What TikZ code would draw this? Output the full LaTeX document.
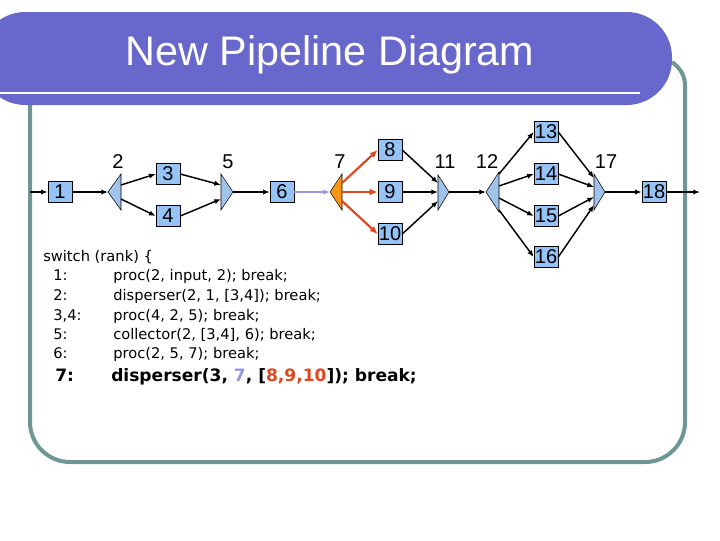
\documentclass[tikz,border=0pt]{standalone}
\usepackage{fontspec}
\setmainfont{Liberation Sans}
\newfontfamily\codefont{DejaVu Sans}
\usetikzlibrary{arrows.meta}
\definecolor{bar}{RGB}{104,104,204}
\definecolor{teal}{RGB}{110,150,150}
\definecolor{boxc}{RGB}{150,195,245}
\definecolor{tric}{RGB}{160,195,235}
\definecolor{orng}{RGB}{250,150,20}
\definecolor{redc}{RGB}{225,70,30}
\definecolor{lav}{RGB}{150,150,225}
\tikzset{
 box/.style={draw=black,fill=boxc,minimum width=18pt,minimum height=16pt,inner sep=0pt,font=\fontsize{15}{15}\selectfont},
 lbl/.style={font=\fontsize{15}{15}\selectfont},
 tri/.style={draw=black,fill=tric,line width=0.4pt},
 ar/.style={-{Latex[length=5pt,width=4pt]},line width=1.1pt},
 rar/.style={-{Latex[length=6pt,width=5pt]},line width=1.6pt,draw=redc},
 code/.style={anchor=base west,inner sep=0pt,font=\codefont\fontsize{11}{11}\selectfont},
 bcode/.style={anchor=base west,inner sep=0pt,font=\codefont\bfseries\fontsize{12.8}{13}\selectfont}
}
\begin{document}
\begin{tikzpicture}[x=0.75pt,y=-0.75pt]
\useasboundingbox (0,0) rectangle (720,540);
% frame
\draw[teal,line width=3pt,rounded corners=30pt] (30,100) -- (30,462) -- (685,462) -- (685,85);
\draw[teal,line width=3pt] (685,86) .. controls (685,75) and (680,68) .. (672,62);
\fill[bar,rounded corners=34pt] (-20,12) -- (672,12) -- (672,105) -- (-20,105) -- cycle;
\draw[white,line width=2pt] (0,93) -- (640,93);
\node[white,font=\fontsize{31}{31}\selectfont] (title) at (330,55) {New Pipeline Diagram};
% boxes
\node[box] (n1) at (60,192) {1};
\node[box] (n3) at (168,174) {3};
\node[box] (n4) at (168,216) {4};
\node[box] (n6) at (282,192) {6};
\node[box] (n8) at (390,150) {8};
\node[box] (n9) at (390,192) {9};
\node[box] (n10) at (390,234) {10};
\node[box] (n13) at (546,132) {13};
\node[box] (n14) at (546,174) {14};
\node[box] (n15) at (546,216) {15};
\node[box] (n16) at (546,257) {16};
\node[box] (n18) at (654,192) {18};
% triangles
\draw[tri] (108,192) -- (121,174) -- (121,210) -- cycle;
\coordinate (t2) at (108,192); \coordinate (b2a) at (121,185); \coordinate (b2b) at (121,199);
\draw[tri] (233,192) -- (221,174) -- (221,210) -- cycle;
\coordinate (t5) at (233,192); \coordinate (b5a) at (221,185); \coordinate (b5b) at (221,199);
\draw[tri,fill=orng] (330,192) -- (342,174) -- (342,210) -- cycle;
\coordinate (t7) at (330,192); \coordinate (b7a) at (342,183); \coordinate (b7b) at (342,192); \coordinate (b7c) at (342,201);
\draw[tri] (449,192) -- (438,175) -- (438,210) -- cycle;
\coordinate (t11) at (449,192); \coordinate (b11a) at (438,183); \coordinate (b11b) at (438,192); \coordinate (b11c) at (438,201);
\draw[tri] (486,192) -- (499,172) -- (499,212) -- cycle;
\coordinate (t12) at (486,192); \coordinate (b12a) at (499,174); \coordinate (b12b) at (499,186); \coordinate (b12c) at (499,198); \coordinate (b12d) at (499,210);
\draw[tri] (605,192) -- (594,174) -- (594,210) -- cycle;
\coordinate (t17) at (605,192); \coordinate (b17a) at (594,178); \coordinate (b17b) at (594,187); \coordinate (b17c) at (594,197); \coordinate (b17d) at (594,205);
% labels
\node[lbl] (l2) at (118,162) {2};
\node[lbl] (l5) at (228,162) {5};
\node[lbl] (l7) at (340,162) {7};
\node[lbl] (l11) at (445,162) {11};
\node[lbl] (l12) at (487,162) {12};
\node[lbl] (l17) at (606,162) {17};
% edges
\coordinate (in) at (30,192); \coordinate (out) at (700,192);
\draw[ar] (in) -- (n1);
\draw[ar] (n1) -- (t2);
\draw[ar] (b2a) -- (n3.west);
\draw[ar] (b2b) -- (n4.west);
\draw[ar] (n3.east) -- (b5a);
\draw[ar] (n4.east) -- (b5b);
\draw[ar] (t5) -- (n6);
\draw[ar,draw=lav] (n6) -- (t7);
\draw[rar] (b7a) -- (n8.west);
\draw[rar] (b7b) -- (n9.west);
\draw[rar] (b7c) -- (n10.west);
\draw[ar] (n8.east) -- (b11a);
\draw[ar] (n9.east) -- (b11b);
\draw[ar] (n10.east) -- (b11c);
\draw[ar] (t11) -- (t12);
\draw[ar] (b12a) -- (n13.west);
\draw[ar] (b12b) -- (n14.west);
\draw[ar] (b12c) -- (n15.west);
\draw[ar] (b12d) -- (n16.west);
\draw[ar] (n13.east) -- (b17a);
\draw[ar] (n14.east) -- (b17b);
\draw[ar] (n15.east) -- (b17c);
\draw[ar] (n16.east) -- (b17d);
\draw[ar] (t17) -- (n18);
\draw[ar] (n18) -- (out);
% code
\node[code] (c0) at (43,261) {switch (rank) \{};
\node[code] (c1a) at (53,280) {1:};  \node[code] (c1b) at (113,280) {proc(2, input, 2); break;};
\node[code] (c2a) at (53,300) {2:};  \node[code] (c2b) at (113,300) {disperser(2, 1, [3,4]); break;};
\node[code] (c3a) at (53,320) {3,4:};\node[code] (c3b) at (113,320) {proc(4, 2, 5); break;};
\node[code] (c4a) at (53,339) {5:};  \node[code] (c4b) at (113,339) {collector(2, [3,4], 6); break;};
\node[code] (c5a) at (53,358) {6:};  \node[code] (c5b) at (113,358) {proc(2, 5, 7); break;};
\node[bcode] (c6a) at (55,381) {7:};
\node[bcode] (c6b) at (111,381) {disperser(3, \textcolor{lav}{7}, [\textcolor{redc}{8,9,10}]); break;};
\end{tikzpicture}
\end{document}
